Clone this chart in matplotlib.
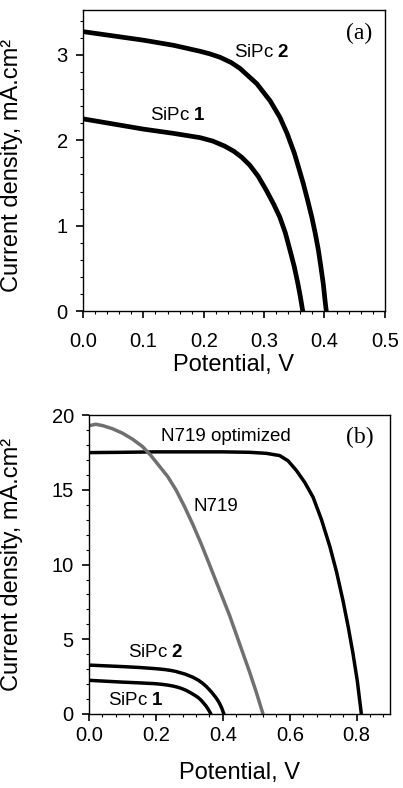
import matplotlib
matplotlib.use("Agg")
import matplotlib.pyplot as plt
from matplotlib.ticker import MultipleLocator, FormatStrFormatter

matplotlib.rcParams['font.family'] = ['Liberation Sans']
matplotlib.rcParams['font.size'] = 14.5
matplotlib.rcParams['mathtext.fontset'] = 'custom'
matplotlib.rcParams['mathtext.rm'] = 'Liberation Sans'
matplotlib.rcParams['mathtext.bf'] = 'Liberation Sans:bold'

# J-V curves (V in volts, J in mA.cm2)
sipc1_v = [0.00, 0.05, 0.10, 0.15, 0.194, 0.215, 0.235, 0.250, 0.263, 0.276, 0.290,
           0.304, 0.316, 0.326, 0.335, 0.343, 0.350, 0.356, 0.360, 0.364]
sipc1_j = [2.25, 2.19, 2.13, 2.08, 2.03, 1.99, 1.93, 1.87, 1.80, 1.71, 1.58,
           1.41, 1.25, 1.10, 0.92, 0.71, 0.52, 0.32, 0.17, 0.00]

sipc2_v = [0.00, 0.05, 0.10, 0.15, 0.194, 0.210, 0.227, 0.245, 0.260, 0.288, 0.310,
           0.326, 0.338, 0.350, 0.358, 0.365, 0.372, 0.379, 0.385, 0.390, 0.394,
           0.398, 0.401, 0.403]
sipc2_j = [3.27, 3.22, 3.17, 3.11, 3.04, 3.01, 2.97, 2.91, 2.84, 2.66, 2.46,
           2.27, 2.08, 1.85, 1.66, 1.49, 1.30, 1.10, 0.90, 0.71, 0.52,
           0.32, 0.12, 0.00]

n719_v = [0.00, 0.02, 0.042, 0.07, 0.10, 0.13, 0.16, 0.185, 0.21, 0.235, 0.26,
          0.285, 0.31, 0.335, 0.36, 0.39, 0.42, 0.45, 0.48, 0.50, 0.52]
n719_j = [19.3, 19.4, 19.3, 19.1, 18.8, 18.4, 17.9, 17.3, 16.6, 15.9, 15.0,
          13.9, 12.7, 11.4, 10.0, 8.3, 6.6, 4.7, 2.8, 1.45, 0.00]

n719opt_v = [0.00, 0.10, 0.20, 0.30, 0.40, 0.48, 0.53, 0.57, 0.595, 0.62, 0.645,
             0.67, 0.695, 0.72, 0.74, 0.759, 0.775, 0.789, 0.802, 0.814]
n719opt_j = [17.5, 17.52, 17.55, 17.55, 17.55, 17.52, 17.45, 17.3, 16.95, 16.3, 15.5,
             14.5, 13.0, 11.2, 9.5, 7.6, 5.8, 4.05, 2.2, 0.00]

ylabel = 'Current density, mA.cm²'
xlabel = 'Potential, V'

fig = plt.figure(figsize=(4.03, 7.88), dpi=100)
ax_a = fig.add_axes([0.206, 0.605, 0.749, 0.382])
ax_b = fig.add_axes([0.221, 0.094, 0.747, 0.379])

# panel (a)
ax_a.plot(sipc2_v, sipc2_j, color='k', lw=3.4, solid_capstyle='round')
ax_a.plot(sipc1_v, sipc1_j, color='k', lw=3.4, solid_capstyle='round')
ax_a.set_xlim(0, 0.5)
ax_a.set_ylim(0, 3.52)
ax_a.xaxis.set_major_locator(MultipleLocator(0.1))
ax_a.xaxis.set_minor_locator(MultipleLocator(0.02))
ax_a.yaxis.set_major_locator(MultipleLocator(1))
ax_a.yaxis.set_minor_locator(MultipleLocator(0.2))
ax_a.xaxis.set_major_formatter(FormatStrFormatter('%.1f'))
ax_a.text(0.296, 3.03, r'SiPc $\mathbf{2}$', ha='center', va='center', fontsize=13.5)
ax_a.text(0.157, 2.29, r'SiPc $\mathbf{1}$', ha='center', va='center', fontsize=13.5)
ax_a.text(0.457, 3.25, '(a)', ha='center', va='center', fontsize=17,
          family='Liberation Serif')
ax_a.tick_params(axis='x', which='major', pad=10)
ax_a.set_xlabel(xlabel, fontsize=17, labelpad=2)
ax_a.set_ylabel(ylabel, fontsize=17)
ax_a.yaxis.set_label_coords(-0.199, 0.485)

# panel (b)
ax_b.plot(n719opt_v, n719opt_j, color='k', lw=2.5, solid_capstyle='round')
ax_b.plot(n719_v, n719_j, color='#707070', lw=2.5, solid_capstyle='round')
ax_b.plot(sipc2_v, sipc2_j, color='k', lw=2.5, solid_capstyle='round')
ax_b.plot(sipc1_v, sipc1_j, color='k', lw=2.5, solid_capstyle='round')
ax_b.set_xlim(0, 0.9)
ax_b.set_ylim(0, 20)
ax_b.xaxis.set_major_locator(MultipleLocator(0.2))
ax_b.xaxis.set_minor_locator(MultipleLocator(0.04))
ax_b.yaxis.set_major_locator(MultipleLocator(5))
ax_b.yaxis.set_minor_locator(MultipleLocator(1))
ax_b.xaxis.set_major_formatter(FormatStrFormatter('%.1f'))
ax_b.text(0.41, 18.6, 'N719 optimized', ha='center', va='center', fontsize=13.5)
ax_b.text(0.38, 13.9, 'N719', ha='center', va='center', fontsize=13.5)
ax_b.text(0.20, 4.1, r'SiPc $\mathbf{2}$', ha='center', va='center', fontsize=13.5)
ax_b.text(0.14, 0.87, r'SiPc $\mathbf{1}$', ha='center', va='center', fontsize=13.5)
ax_b.text(0.81, 18.5, '(b)', ha='center', va='center', fontsize=17,
          family='Liberation Serif')
ax_b.tick_params(axis='x', which='major', pad=4)
ax_b.set_xlabel(xlabel, fontsize=17, labelpad=12)
ax_b.set_ylabel(ylabel, fontsize=17)
ax_b.yaxis.set_label_coords(-0.219, 0.50)

for ax in (ax_a, ax_b):
    ax.tick_params(which='major', direction='out', length=5, width=1.2)
    ax.tick_params(axis='y', which='major', pad=6)
    ax.tick_params(which='minor', direction='out', length=2.5, width=0.8)
    for sp in ax.spines.values():
        sp.set_linewidth(1.0)

fig.savefig('out.png', dpi=100)
